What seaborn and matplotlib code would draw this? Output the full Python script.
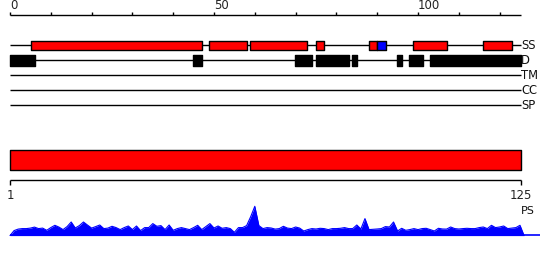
import numpy as np
import pandas as pd
import matplotlib
matplotlib.use("Agg")
import matplotlib.pyplot as plt
import seaborn as sns

sns.set_style("white")
plt.rcParams['font.family'] = ['DejaVu Sans']

# ---------------- data ----------------
seq_len = 125
top_ticks = list(range(0, 125, 10))
top_labels = [0, 50, 100]
track_names = ["SS", "D", "TM", "CC", "SP"]

# secondary structure segments (start, end) in residues
ss_red = [(5.1, 47.0), (48.8, 58.0), (58.8, 72.9), (75.0, 77.0), (88.1, 90.0),
          (98.8, 107.0), (116.0, 123.0)]
ss_blue = [(90.0, 92.1)]
# disorder segments
dis_black = [(0.0, 6.1), (44.9, 47.1), (69.9, 73.9), (75.0, 83.1), (83.9, 85.0),
             (94.9, 96.1), (97.8, 101.2), (102.9, 125.2)]
# domain bar
domain = [(0.0, 125.2)]
domain_labels = ["1", "125"]

# PS profile (per residue)
ps_pos = list(range(0, 127))
ps_val = [0, 5, 6.5, 7, 7, 7.5, 8.5, 7, 7.5, 5.3,
          8, 10.3, 8.5, 6, 9, 13.6, 7.6, 10, 13.6, 10.5,
          7.5, 9, 10.6, 7, 7.5, 9.3, 8, 6, 8, 9.6,
          6, 9.6, 5, 8, 8, 12, 9.3, 10, 6, 10.6,
          5.3, 7, 8, 7, 6, 8, 10.3, 6, 9, 12,
          7.6, 9.6, 7.3, 8, 7, 3.3, 8, 8, 10, 19,
          29.3, 10, 7, 8, 7.6, 6.5, 7, 9.3, 7.5, 7,
          8.6, 7.5, 4.6, 6, 7, 6.6, 7.3, 7, 6, 7,
          7, 7.3, 8, 7, 7, 10.6, 6.6, 17, 6, 6.3,
          6.6, 7, 9, 8.6, 13.6, 4.6, 7.3, 5.3, 6, 7,
          6, 7, 7.3, 6, 4.6, 7.3, 6.6, 6.5, 8.6, 7,
          6.6, 7, 7.3, 7, 7, 8, 8.6, 7, 10.3, 8,
          8.6, 9.6, 7, 7.5, 8, 10.3, 0]
ps_df = pd.DataFrame({"pos": ps_pos, "val": ps_val})

# ---------------- layout ----------------
px_per_res = 4.08
x0_px = 10.0
W, H = 550, 260
xlim = (-x0_px / px_per_res, (W - x0_px) / px_per_res)

fig = plt.figure(figsize=(W / 100, H / 100), dpi=100)
ax = fig.add_axes([0, 0, 1, 1])
ax.set_xlim(*xlim)
ax.set_ylim(H, 0)
ax.axis("off")

# top ruler
ruler_y = 15.0
ax.hlines(ruler_y, 0, seq_len + 0.2, color="black", lw=1)
ax.vlines(top_ticks, ruler_y - 3.3, ruler_y, color="black", lw=1)
for t in top_labels:
    ax.text(t, ruler_y - 3.0, str(t), ha="left", va="bottom", fontsize=8.5,
            color="#222222")

# tracks
track_y = [45.3, 60.3, 75.3, 90.3, 105.3]
for name, y in zip(track_names, track_y):
    ax.hlines(y, 0, seq_len + 0.2, color="black", lw=1, zorder=1)
    ax.text(seq_len + 0.3, y, name, ha="left", va="center", fontsize=8.3,
            color="#111111")

bh = 9.6
ax.broken_barh([(s, e - s) for s, e in ss_red], (track_y[0] - bh / 2, bh),
               facecolors="#ff0000", edgecolors="black", lw=1, zorder=2)
ax.broken_barh([(s, e - s) for s, e in ss_blue], (track_y[0] - bh / 2, bh),
               facecolors="#0000ff", edgecolors="black", lw=1, zorder=2)
bh2 = 10.4
ax.broken_barh([(s, e - s) for s, e in dis_black], (track_y[1] - bh2 / 2, bh2),
               facecolors="black", edgecolors="black", lw=1, zorder=2)

# domain bar
ax.broken_barh([(s, e - s) for s, e in domain], (150.3, 20.0),
               facecolors="#ff0000", edgecolors="black", lw=1, zorder=2)

# bottom ruler
by = 180.3
ax.hlines(by, 0, seq_len + 0.2, color="black", lw=1)
ax.vlines([0, seq_len + 0.2], by, by + 4.7, color="black", lw=1)
ax.text(0, 195.5, domain_labels[0], ha="center", va="center", fontsize=8.5,
        color="#222222")
ax.text(seq_len + 0.2, 195.5, domain_labels[1], ha="center", va="center",
        fontsize=8.5, color="#222222")
ax.text(seq_len + 0.3, 211.5, "PS", ha="left", va="center", fontsize=8,
        color="#111111")

# PS profile
base_px = 235.6
prof_h = 31.0
pax = fig.add_axes([0, (H - base_px) / H, 1, prof_h / H])
pax.set_xlim(*xlim)
pax.set_ylim(0, prof_h)
pax.axis("off")
pax.fill_between(ps_df["pos"], 0, ps_df["val"], color="#0000ff", lw=0)
sns.lineplot(data=ps_df, x="pos", y="val", ax=pax, color="#0000ff", lw=0.8)
pax.hlines(0.3, 0, 130, color="#0000ff", lw=1.2)

fig.savefig("out.png", dpi=100)
